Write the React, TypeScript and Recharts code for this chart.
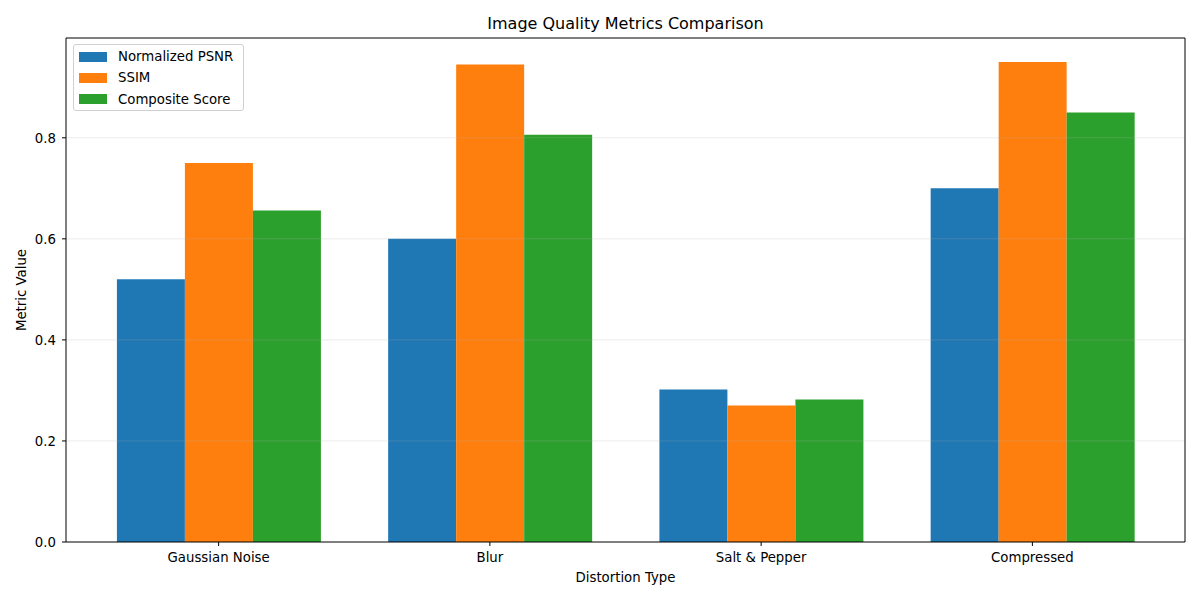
import React from 'react'
import { BarChart, Bar, XAxis, YAxis, Legend, ReferenceLine } from 'recharts'

// ── Dados ─────────────────────────────────────────────────────────────────────

const distortions = ['Gaussian Noise', 'Blur', 'Salt & Pepper', 'Compressed']
const normalizedPsnr = [0.52, 0.6, 0.302, 0.7]
const ssim = [0.75, 0.945, 0.27, 0.95]
const compositeScore = [0.656, 0.806, 0.282, 0.85]
const yTicks = [0, 0.2, 0.4, 0.6, 0.8]

const series = [
  { key: 'psnr', label: 'Normalized PSNR', color: '#1f77b4' },
  { key: 'ssim', label: 'SSIM', color: '#ff7f0e' },
  { key: 'composite', label: 'Composite Score', color: '#2ca02c' },
]

const data = distortions.map((name, i) => ({
  name,
  psnr: normalizedPsnr[i],
  ssim: ssim[i],
  composite: compositeScore[i],
}))

const FONT = '"DejaVu Sans", sans-serif'

// ── Legenda ───────────────────────────────────────────────────────────────────

function MplLegend() {
  return (
    <div style={styles.legendBox}>
      {series.map(s => (
        <div key={s.key} style={styles.legendRow}>
          <span style={{ ...styles.legendPatch, background: s.color }} />
          <span>{s.label}</span>
        </div>
      ))}
    </div>
  )
}

// ── Componente principal ──────────────────────────────────────────────────────

export default function App() {
  return (
    <div style={styles.page}>
      <BarChart
        width={1200}
        height={600}
        data={data}
        margin={{ top: 37, right: 14, bottom: 0, left: 0 }}
        barCategoryGap="12.5%"
        barGap={0}
      >
        <XAxis
          dataKey="name"
          height={58}
          padding={{ left: 17, right: 17 }}
          tickSize={4}
          tickMargin={7}
          tick={{ fill: '#000', fontSize: 13.3, fontFamily: FONT }}
          axisLine={{ stroke: '#000', strokeWidth: 1 }}
          tickLine={{ stroke: '#000' }}
          label={{
            value: 'Distortion Type',
            position: 'insideBottom',
            offset: 18,
            fill: '#000',
            fontSize: 13.3,
            fontFamily: FONT,
          }}
        />
        <XAxis
          xAxisId="top"
          dataKey="name"
          orientation="top"
          height={1}
          padding={{ left: 17, right: 17 }}
          tick={false}
          tickLine={false}
          axisLine={{ stroke: '#000' }}
        />
        <YAxis
          width={66}
          domain={[0, 0.9975]}
          ticks={yTicks}
          tickFormatter={(v: number) => v.toFixed(1)}
          tickSize={4}
          tickMargin={6}
          tick={{ fill: '#000', fontSize: 13.3, fontFamily: FONT }}
          axisLine={{ stroke: '#000' }}
          tickLine={{ stroke: '#000' }}
          label={{
            value: 'Metric Value',
            content: () => (
              <text
                x={21}
                y={290}
                transform="rotate(-90, 21, 290)"
                textAnchor="middle"
                dominantBaseline="central"
                fill="#000"
                fontSize={13.3}
                fontFamily={FONT}
              >
                Metric Value
              </text>
            ),
          }}
        />
        <YAxis
          yAxisId="right"
          orientation="right"
          width={1}
          domain={[0, 0.9975]}
          tick={false}
          tickLine={false}
          axisLine={{ stroke: '#000' }}
        />
        {series.map(s => (
          <Bar key={s.key} dataKey={s.key} name={s.label} fill={s.color} isAnimationActive={false} />
        ))}
        {yTicks.slice(1).map(t => (
          <ReferenceLine key={t} y={t} stroke="#b0b0b0" strokeOpacity={0.3} strokeWidth={0.8} />
        ))}
        <Legend
          layout="vertical"
          align="center"
          verticalAlign="middle"
          wrapperStyle={{ left: 73, top: 44, width: 'auto' }}
          content={() => <MplLegend />}
        />
        <text x={625.5} y={29} textAnchor="middle" fontSize={16} fontFamily={FONT} fill="#000">
          Image Quality Metrics Comparison
        </text>
      </BarChart>
    </div>
  )
}

// ── Estilos ───────────────────────────────────────────────────────────────────

const styles = {
  page: {
    position: 'fixed',
    left: 0,
    top: 0,
    width: 1200,
    height: 600,
    background: '#fff',
  },
  legendBox: {
    boxSizing: 'border-box',
    width: 171,
    height: 67,
    paddingTop: 1,
    border: '1px solid #d0d0d0',
    borderRadius: 3,
    background: 'rgba(255,255,255,0.8)',
    fontFamily: FONT,
    fontSize: 13.3,
    color: '#000',
  },
  legendRow: {
    display: 'flex',
    alignItems: 'center',
    height: 21.3,
    whiteSpace: 'nowrap',
  },
  legendPatch: {
    display: 'inline-block',
    width: 28,
    height: 10,
    marginLeft: 5,
    marginRight: 11,
  },
} as const
